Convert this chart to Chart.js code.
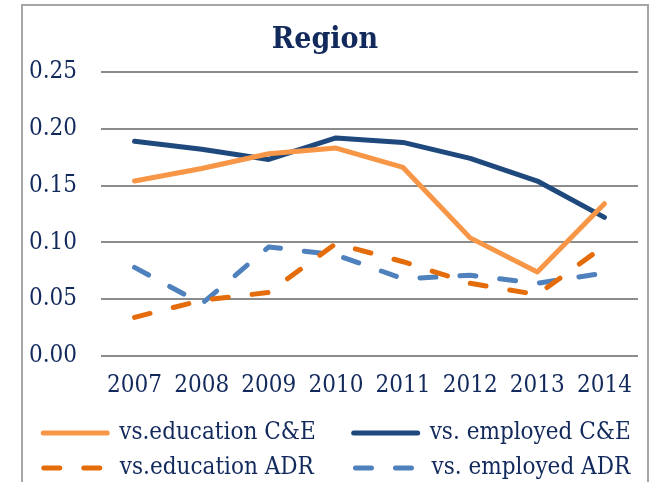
<!DOCTYPE html>
<html>
<head>
<meta charset="utf-8">
<script src="https://cdn.jsdelivr.net/npm/chart.js@4"></script>
<style>
  html, body { margin: 0; padding: 0; background: #fff; overflow: hidden; }
  #wrap { position: relative; width: 651px; height: 482px; overflow: hidden; }
</style>
</head>
<body>
<div id="wrap"><canvas id="chart" width="651" height="492"></canvas></div>
<script>
// data
var years = ["2007", "2008", "2009", "2010", "2011", "2012", "2013", "2014"];
var eduCE = [0.154, 0.165, 0.178, 0.183, 0.166, 0.104, 0.074, 0.134];
var empCE = [0.189, 0.182, 0.173, 0.192, 0.188, 0.174, 0.154, 0.122];
var eduADR = [0.034, 0.049, 0.056, 0.099, 0.083, 0.064, 0.054, 0.097];
var empADR = [0.078, 0.046, 0.096, 0.089, 0.068, 0.071, 0.064, 0.073];

var textColor = "#12295c";
var fontFamily = "'DejaVu Serif Condensed', 'DejaVu Serif', serif";

// grey frame around the whole chart (bottom is cut off in the picture)
const framePlugin = {
  id: "frame",
  beforeDraw: function (chart) {
    const ctx = chart.ctx;
    ctx.save();
    ctx.strokeStyle = "#a6a6a6";
    ctx.lineWidth = 2;
    ctx.strokeRect(22, 5, 626, 520);
    ctx.restore();
  },
  // nudge the legend a bit to the right so it sits under the frame centre
  afterLayout: function (chart) {
    if (chart.legend) {
      chart.legend.left += 12;
      chart.legend.right += 12;
    }
  },
};

function lineSet(label, data, color, dashed) {
  return {
    label: label,
    data: data,
    borderColor: color,
    backgroundColor: color,
    borderWidth: 5,
    borderDash: dashed ? [16, 24] : [],
    borderCapStyle: "round",
    borderJoinStyle: "round",
    pointRadius: 0,
    pointHoverRadius: 0,
    pointStyle: "line",
    tension: 0,
    fill: false,
  };
}

new Chart(document.getElementById("chart"), {
  type: "line",
  data: {
    labels: years,
    datasets: [
      lineSet("vs.education C&E", eduCE, "#f79646", false),
      lineSet("vs. employed C&E", empCE, "#1f497d", false),
      lineSet("vs.education ADR", eduADR, "#e46c0a", true),
      lineSet("vs. employed ADR", empADR, "#4f81bd", true),
    ],
  },
  options: {
    responsive: false,
    animation: false,
    layout: {
      padding: { left: 12, right: 13, top: 10, bottom: 2 },
    },
    plugins: {
      title: {
        display: true,
        text: "Region",
        color: textColor,
        font: { family: fontFamily, size: 30, weight: "bold" },
        padding: { top: 12, bottom: 14 },
      },
      legend: {
        display: true,
        position: "bottom",
        labels: {
          usePointStyle: true,
          pointStyleWidth: 64,
          color: textColor,
          font: { family: fontFamily, size: 24 },
          padding: 11,
          generateLabels: function (chart) {
            const items = Chart.defaults.plugins.legend.labels.generateLabels(chart);
            // point style legend ignores the dataset dash, so copy it over
            items.forEach(function (item) {
              const ds = chart.data.datasets[item.datasetIndex];
              item.lineDash = ds.borderDash;
              item.lineCap = ds.borderCapStyle;
              item.lineWidth = ds.borderWidth;
            });
            // keep the two legend columns apart like the original
            if (items[0]) items[0].text += "\u2003\u2005";
            if (items[2]) items[2].text += "\u2003\u2005\u2006";
            return items;
          },
        },
      },
      tooltip: { enabled: false },
    },
    scales: {
      x: {
        offset: true,
        afterFit: function (scale) {
          scale.height = 54;
        },
        grid: { display: false, drawTicks: false },
        border: { display: false },
        ticks: {
          color: textColor,
          font: { family: fontFamily, size: 24 },
          padding: 15,
          maxRotation: 0,
          autoSkip: false,
        },
      },
      y: {
        min: 0,
        max: 0.25,
        afterFit: function (scale) {
          scale.width = 89;
        },
        grid: { color: "#8c8c8c", lineWidth: 2, drawTicks: false },
        border: { display: false },
        ticks: {
          stepSize: 0.05,
          color: textColor,
          font: { family: fontFamily, size: 24 },
          padding: 24,
          callback: function (v) {
            return v.toFixed(2);
          },
        },
      },
    },
  },
  plugins: [framePlugin],
});
</script>
</body>
</html>
